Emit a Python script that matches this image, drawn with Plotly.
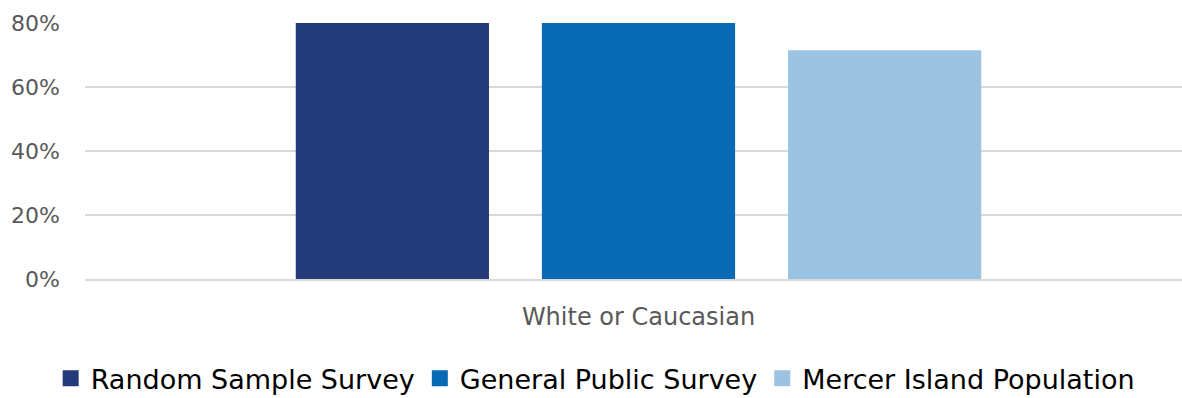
import plotly.graph_objects as go

categories = ["White or Caucasian"]
series_names = ["Random Sample Survey", "General Public Survey", "Mercer Island Population"]
series_values = [[84], [83], [71.5]]
colors = ["#233b78", "#0869b4", "#9cc3e2"]
y_ticks = [0, 20, 40, 60, 80]
y_tick_labels = ["0%", "20%", "40%", "60%", "80%"]

fig = go.Figure()
for name, vals, col in zip(series_names, series_values, colors):
    fig.add_trace(go.Bar(x=categories, y=vals, name=name, marker_color=col,
                         marker_line_width=0, showlegend=False))
# legend proxies: bigger square swatches than the bar legend gives
for name, col in zip(series_names, colors):
    fig.add_trace(go.Scatter(x=[categories[0]], y=[None], name=name, mode="markers",
                             marker=dict(symbol="square", size=20, color=col),
                             hoverinfo="skip"))

fig.update_layout(
    width=1192, height=398,
    margin=dict(l=85, r=0, t=23, b=119, autoexpand=False),
    plot_bgcolor="white", paper_bgcolor="white",
    barmode="group", bargap=0.333, bargroupgap=0.215,
    font=dict(family="DejaVu Sans, sans-serif", color="#595959"),
    showlegend=True,
    legend=dict(orientation="h", x=-0.031, xanchor="left", y=-0.294, yanchor="top",
                font=dict(family="DejaVu Sans, sans-serif", size=27, color="#000000"),
                itemwidth=30, tracegroupgap=0),
)
fig.update_yaxes(range=[0, 80], tickvals=y_ticks, ticktext=y_tick_labels,
                 showgrid=True, gridcolor="#d9d9d9", gridwidth=1.5,
                 zeroline=False, showline=False,
                 tickfont=dict(size=22, color="#595959"), ticks="", ticklabelstandoff=24)
fig.update_xaxes(showline=True, linecolor="#d9d9d9", linewidth=1.5,
                 tickfont=dict(size=24, color="#595959"), ticks="", ticklabelstandoff=15)

# drop the default 8px page margin so the figure sits flush in the window
fig.write_html("out.html", config={"displayModeBar": False},
               post_script="document.body.style.margin='0';document.body.style.overflow='hidden';")
